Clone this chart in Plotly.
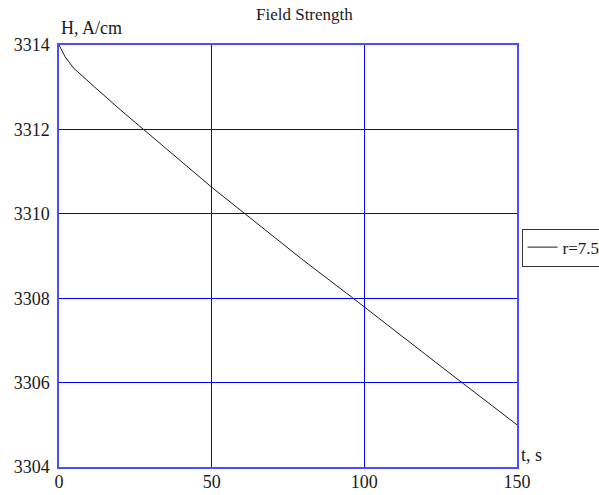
import plotly.graph_objects as go

# Data
t_s = [0, 2, 4.8, 8, 12.2, 20, 27.5, 35, 50, 60.8, 70, 80, 96.3, 100, 110, 120, 130, 140, 150]
H_acm = [3314.0, 3313.72, 3313.45, 3313.25, 3312.97, 3312.47, 3312.0, 3311.55, 3310.63,
         3310.0, 3309.47, 3308.9, 3308.0, 3307.79, 3307.23, 3306.67, 3306.11, 3305.56, 3305.0]
series_name = "r=7.5"
x_ticks = [0, 50, 100, 150]
y_ticks = [3304, 3306, 3308, 3310, 3312, 3314]

SERIF = "Times New Roman, Liberation Serif, serif"
BLUE = "rgb(0,0,255)"
TEXT = "#1a1a1a"

fig = go.Figure()
fig.add_trace(go.Scatter(x=t_s, y=H_acm, mode="lines", name=series_name,
                         line=dict(color="#1a1a1a", width=1)))

fig.update_layout(
    width=599, height=495,
    margin=dict(l=59, r=82, t=45, b=28, autoexpand=False),
    paper_bgcolor="white", plot_bgcolor="white",
    font=dict(family=SERIF, size=18, color=TEXT),
    showlegend=True,
    legend=dict(x=1.01, xanchor="left", y=0.52, yanchor="middle",
                bordercolor="#333333", borderwidth=1, bgcolor="white",
                font=dict(family=SERIF, size=17, color=TEXT),
                itemwidth=30, tracegroupgap=0),
    annotations=[
        dict(text="Field Strength", xref="paper", yref="paper", x=0.535, y=1,
             yshift=31, xanchor="center", yanchor="middle", showarrow=False,
             font=dict(family=SERIF, size=17, color=TEXT)),
        dict(text="H, A/cm", xref="paper", yref="paper", x=0, y=1,
             yshift=17, xanchor="left", yanchor="middle", showarrow=False,
             font=dict(family=SERIF, size=18, color=TEXT)),
        dict(text="t, s", xref="paper", yref="paper", x=1, y=0,
             xshift=2, yshift=12, xanchor="left", yanchor="middle", showarrow=False,
             font=dict(family=SERIF, size=18, color=TEXT)),
    ],
)

fig.update_xaxes(range=[0, 150], tickvals=x_ticks, showgrid=True, gridcolor=BLUE,
                 gridwidth=1, showline=True, linecolor="#4d4dff", linewidth=1.5,
                 mirror=True, zeroline=False, ticks="", ticklabelstandoff=-2,
                 tickfont=dict(family=SERIF, size=18, color=TEXT))
fig.update_yaxes(range=[3304, 3314], tickvals=y_ticks, showgrid=True, gridcolor=BLUE,
                 gridwidth=1, showline=True, linecolor="#4d4dff", linewidth=1.5,
                 mirror=True, zeroline=False, ticks="", ticklabelstandoff=4,
                 tickfont=dict(family=SERIF, size=18, color=TEXT))

fig.write_html("out.html")
